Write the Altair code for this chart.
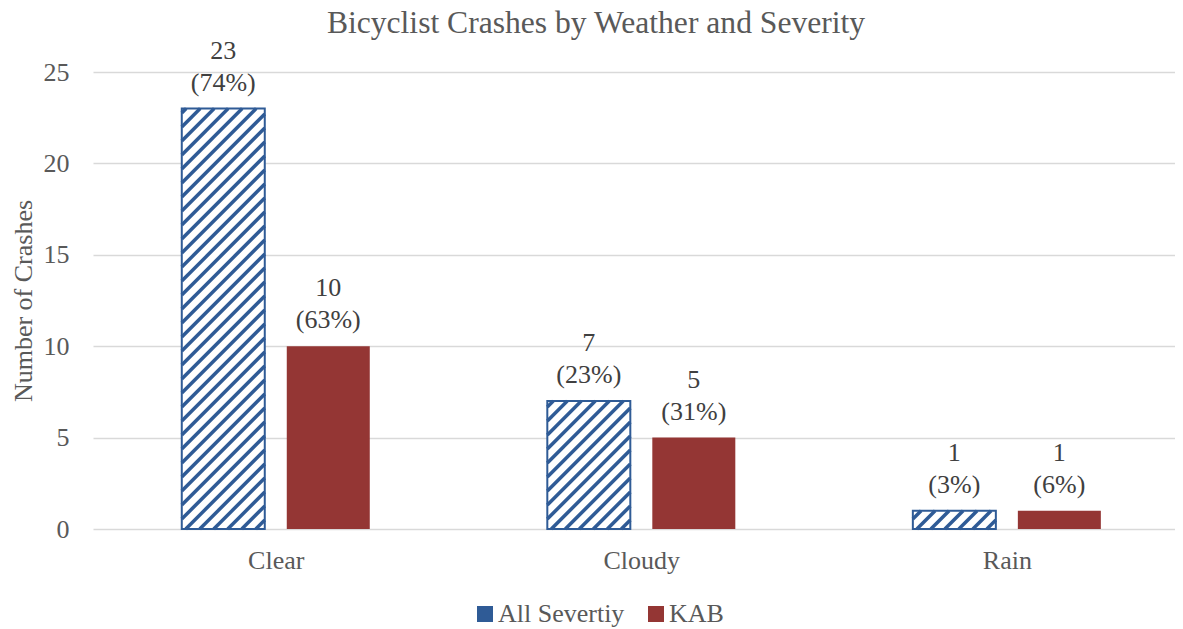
import json
import math
import altair as alt
import pandas as pd

# ---- data ----
categories = ["Clear", "Cloudy", "Rain"]
series = ["All Severtiy", "KAB"]
all_counts = [23, 7, 1]
kab_counts = [10, 5, 1]
all_pct = ["(74%)", "(23%)", "(3%)"]
kab_pct = ["(63%)", "(31%)", "(6%)"]
y_ticks = [0, 5, 10, 15, 20, 25]

# ---- layout / style constants ----
PLOT_W, PLOT_H = 1082, 457
X_MAX, Y_MAX = 2.96, 25
PX_X = PLOT_W / X_MAX
PX_Y = PLOT_H / Y_MAX
BAR_W = 83 / PX_X
GAP = 22 / PX_X
STRIPE_STEP = 14.0
STRIPE_PHASE = 4.0
BLUE = "#2F5B96"
RED = "#943634"
FONT = "Liberation Serif, Times New Roman, DejaVu Serif, serif"
GRAY = "#595959"
DARK = "#404040"

rows = []
for i, cat in enumerate(categories):
    for s, counts, pcts in ((0, all_counts, all_pct), (1, kab_counts, kab_pct)):
        center = i + 0.5
        left = center - GAP / 2 - BAR_W if s == 0 else center + GAP / 2
        rows.append({
            "weather": cat, "series": series[s], "value": counts[i],
            "pct": pcts[i], "x": left, "x2": left + BAR_W,
            "mid": left + BAR_W / 2, "zero": 0,
        })
bars = pd.DataFrame(rows)

# hatch stripes for "All" bars (45 degrees in screen space)
stripes = []
for r in rows:
    if r["series"] != series[0]:
        continue
    w = BAR_W * PX_X
    h = r["value"] * PX_Y
    k0 = math.ceil((-h - STRIPE_PHASE) / STRIPE_STEP)
    k1 = math.floor((w - STRIPE_PHASE) / STRIPE_STEP)
    for k in range(k0, k1 + 1):
        c = STRIPE_PHASE + k * STRIPE_STEP
        u0 = max(0.0, c)
        u1 = min(w, h + c)
        if u1 - u0 > 0.5:
            stripes.append({
                "sx": r["x"] + u0 / PX_X, "sx2": r["x"] + u1 / PX_X,
                "sy": (u0 - c) / PX_Y, "sy2": (u1 - c) / PX_Y,
            })
stripes = pd.DataFrame(stripes)

xscale = alt.Scale(domain=[0, X_MAX], nice=False, zero=False)
yscale = alt.Scale(domain=[0, Y_MAX], nice=False)
label_expr = json.dumps(categories) + "[floor(datum.value)]"
xaxis = alt.Axis(values=[0.5, 1.5, 2.5], labelExpr=label_expr, grid=False,
                 domain=False, ticks=False, labelFont=FONT, labelFontSize=26,
                 labelColor=GRAY, labelPadding=18, labelOverlap=False, title=None)
yaxis = alt.Axis(values=y_ticks, grid=True, gridColor="#D9D9D9", gridWidth=1.5,
                 domain=False, ticks=False, labelFont=FONT, labelFontSize=26,
                 labelColor=GRAY, labelPadding=24, title="Number of Crashes",
                 titleFont=FONT, titleFontSize=26, titleFontWeight="normal",
                 titleColor=GRAY, titlePadding=7)


def X(f):
    return alt.X(f, type="quantitative", scale=xscale, axis=xaxis)


def Y(f):
    return alt.Y(f, type="quantitative", scale=yscale, axis=yaxis)


base = alt.Chart(bars)

colored = base.mark_rect().encode(
    x=X("x"), x2=alt.X2("x2"), y=Y("value"), y2=alt.Y2("zero"),
    fill=alt.Fill("series:N", scale=alt.Scale(domain=series, range=[BLUE, RED]),
                  legend=alt.Legend(orient="none", legendX=379, legendY=529,
                                    direction="horizontal", title=None,
                                    symbolType="square", symbolSize=256,
                                    symbolStrokeWidth=0, labelFont=FONT,
                                    labelFontSize=26, labelColor=GRAY,
                                    labelOffset=0, columnPadding=18, padding=0)),
)

white = base.transform_filter(alt.datum.series == series[0]).mark_rect(
    fill="white").encode(x=X("x"), x2=alt.X2("x2"), y=Y("value"), y2=alt.Y2("zero"))

hatch = alt.Chart(stripes).mark_rule(color=BLUE, strokeWidth=3.5).encode(
    x=X("sx"), x2=alt.X2("sx2"), y=Y("sy"), y2=alt.Y2("sy2"))

border = base.transform_filter(alt.datum.series == series[0]).mark_rect(
    filled=False, stroke=BLUE, strokeWidth=2).encode(
    x=X("x"), x2=alt.X2("x2"), y=Y("value"), y2=alt.Y2("zero"))

lab1 = base.mark_text(dy=-58, baseline="middle", font=FONT, fontSize=26,
                      color=DARK).encode(x=X("mid"), y=Y("value"), text="value:N")
lab2 = base.mark_text(dy=-26, baseline="middle", font=FONT, fontSize=26,
                      color=DARK).encode(x=X("mid"), y=Y("value"), text="pct:N")

chart = alt.layer(colored, white, hatch, border, lab1, lab2).properties(
    width=PLOT_W, height=PLOT_H,
    autosize=alt.AutoSizeParams(type="none"),
    padding={"left": 85, "top": 64, "right": 0, "bottom": 100},
    title=alt.Title("Bicyclist Crashes by Weather and Severity", fontSize=31.6,
                    font=FONT, color=GRAY, fontWeight="normal", anchor="middle",
                    dx=-38, offset=-27, baseline="alphabetic"),
).configure_view(stroke=None)

chart.save("out.html", embed_options={"renderer": "svg", "actions": False})
